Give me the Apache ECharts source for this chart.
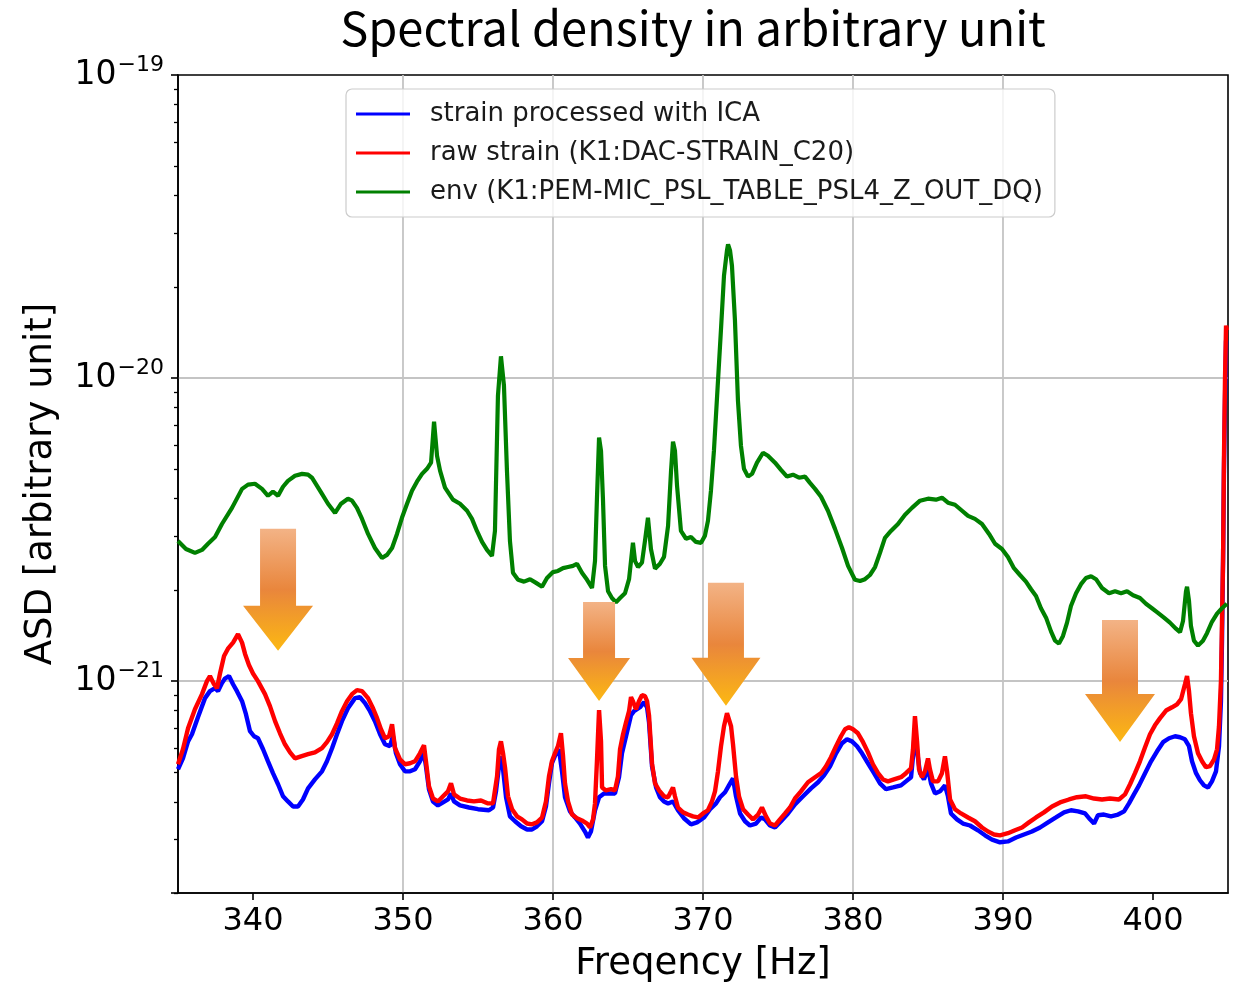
<!DOCTYPE html>
<html>
<head>
<meta charset="utf-8">
<script src="https://cdn.jsdelivr.net/npm/echarts@6/dist/echarts.min.js"></script>
<style>
html,body{margin:0;padding:0;background:#ffffff;}
#chart{width:1237px;height:983px;}
</style>
</head>
<body>
<div id="chart"></div>
<script>
// ---------------- DATA (frequency in Hz, ASD in units of 1e-21) ----------------
const titleText = 'Spectral density in arbitrary unit';
const xAxisName = 'Freqency [Hz]';
const yAxisName = 'ASD [arbitrary unit]';
const seriesNames = ['strain processed with ICA', 'raw strain (K1:DAC-STRAIN_C20)', 'env (K1:PEM-MIC_PSL_TABLE_PSL4_Z_OUT_DQ)'];
const xTickValues = [340, 350, 360, 370, 380, 390, 400];
const yDecadeValues = [1, 10, 100];            // 1e-21, 1e-20, 1e-19
const yMinorValues = [0.2,0.3,0.4,0.5,0.6,0.7,0.8,0.9,2,3,4,5,6,7,8,9,20,30,40,50,60,70,80,90];
const UNIT_EXP = -21;                           // values below are multiples of 1e-21

const icaStrain = [[335.00,0.512],[335.33,0.556],[335.67,0.633],[335.93,0.668],[336.33,0.760],[336.80,0.879],[337.13,0.927],[337.47,0.948],[337.67,0.927],[337.93,0.985],[338.13,1.02],[338.40,1.04],[338.67,0.977],[338.93,0.927],[339.27,0.859],[339.53,0.778],[339.80,0.684],[340.07,0.658],[340.33,0.648],[340.67,0.596],[341.00,0.544],[341.33,0.497],[341.67,0.457],[342.00,0.417],[342.33,0.401],[342.67,0.386],[343.00,0.386],[343.33,0.407],[343.67,0.443],[344.13,0.474],[344.60,0.504],[344.93,0.544],[345.27,0.601],[345.60,0.668],[345.93,0.738],[346.33,0.814],[346.80,0.879],[347.13,0.886],[347.47,0.846],[347.80,0.796],[348.13,0.738],[348.47,0.668],[348.80,0.619],[349.13,0.610],[349.33,0.658],[349.53,0.578],[349.80,0.532],[350.13,0.504],[350.47,0.504],[350.80,0.512],[351.13,0.544],[351.40,0.578],[351.53,0.524],[351.73,0.440],[352.00,0.401],[352.33,0.389],[352.67,0.398],[353.00,0.407],[353.20,0.426],[353.40,0.401],[353.80,0.389],[354.40,0.383],[355.00,0.378],[355.73,0.375],[356.00,0.383],[356.20,0.433],[356.40,0.524],[356.53,0.565],[356.67,0.512],[356.87,0.414],[357.13,0.358],[357.47,0.345],[357.87,0.332],[358.27,0.324],[358.60,0.324],[358.93,0.332],[359.27,0.345],[359.53,0.386],[359.73,0.460],[359.93,0.536],[360.20,0.578],[360.40,0.596],[360.60,0.504],[360.80,0.414],[361.13,0.372],[361.47,0.355],[361.80,0.339],[362.13,0.319],[362.33,0.305],[362.53,0.319],[362.80,0.375],[363.07,0.414],[363.40,0.426],[363.80,0.426],[364.13,0.426],[364.40,0.482],[364.60,0.578],[364.87,0.658],[365.20,0.772],[365.40,0.796],[365.53,0.784],[365.80,0.820],[366.07,0.852],[366.27,0.820],[366.40,0.732],[366.60,0.524],[366.87,0.446],[367.13,0.414],[367.40,0.401],[367.67,0.395],[368.00,0.401],[368.33,0.375],[368.73,0.353],[369.20,0.337],[369.60,0.342],[370.07,0.355],[370.47,0.378],[370.87,0.395],[371.13,0.414],[371.47,0.430],[371.73,0.453],[372.00,0.478],[372.20,0.417],[372.47,0.366],[372.80,0.345],[373.13,0.334],[373.53,0.339],[373.87,0.355],[374.13,0.350],[374.47,0.334],[374.80,0.329],[375.20,0.345],[375.67,0.366],[376.13,0.392],[376.67,0.417],[377.20,0.443],[377.67,0.464],[378.07,0.489],[378.47,0.524],[378.87,0.578],[379.27,0.624],[379.60,0.643],[379.93,0.633],[380.27,0.610],[380.60,0.578],[381.00,0.536],[381.40,0.497],[381.80,0.460],[382.20,0.440],[382.67,0.446],[383.20,0.453],[383.53,0.467],[383.87,0.482],[384.00,0.565],[384.13,0.699],[384.27,0.587],[384.47,0.497],[384.73,0.474],[385.00,0.516],[385.20,0.460],[385.47,0.426],[385.80,0.433],[386.13,0.453],[386.33,0.417],[386.53,0.366],[386.93,0.350],[387.33,0.339],[387.80,0.334],[388.33,0.322],[388.80,0.310],[389.27,0.300],[389.80,0.294],[390.33,0.296],[390.87,0.305],[391.40,0.312],[391.93,0.319],[392.47,0.329],[393.00,0.342],[393.53,0.355],[394.07,0.369],[394.53,0.375],[395.00,0.372],[395.47,0.366],[395.80,0.350],[396.07,0.339],[396.33,0.361],[396.73,0.363],[397.20,0.358],[397.67,0.363],[398.07,0.372],[398.40,0.395],[398.73,0.423],[399.07,0.453],[399.47,0.497],[399.87,0.544],[400.27,0.587],[400.67,0.629],[401.07,0.648],[401.47,0.658],[401.80,0.653],[402.13,0.643],[402.40,0.610],[402.60,0.544],[402.87,0.497],[403.13,0.471],[403.40,0.453],[403.67,0.446],[403.93,0.467],[404.20,0.504],[404.40,0.610],[404.53,0.859],[404.60,1.36],[404.67,2.49],[404.73,4.95],[404.80,8.43],[404.87,13.3],[404.93,13.3]];

const rawStrain = [[335.00,0.532],[335.33,0.596],[335.67,0.699],[336.13,0.808],[336.60,0.906],[336.93,1.00],[337.13,1.04],[337.40,0.977],[337.60,0.948],[337.80,1.06],[338.07,1.21],[338.33,1.28],[338.67,1.34],[339.00,1.43],[339.27,1.34],[339.47,1.23],[339.73,1.13],[340.00,1.06],[340.33,1.00],[340.80,0.906],[341.13,0.827],[341.47,0.738],[341.80,0.673],[342.13,0.619],[342.47,0.582],[342.80,0.556],[343.20,0.565],[343.67,0.574],[344.13,0.582],[344.60,0.601],[344.93,0.629],[345.27,0.668],[345.60,0.726],[345.93,0.796],[346.27,0.859],[346.60,0.906],[346.93,0.934],[347.27,0.927],[347.67,0.879],[348.00,0.814],[348.27,0.755],[348.53,0.694],[348.80,0.648],[349.07,0.658],[349.27,0.721],[349.47,0.601],[349.80,0.552],[350.13,0.532],[350.47,0.536],[350.80,0.544],[351.13,0.578],[351.40,0.615],[351.53,0.544],[351.73,0.450],[352.00,0.410],[352.33,0.401],[352.67,0.417],[353.00,0.433],[353.20,0.460],[353.40,0.423],[353.80,0.410],[354.27,0.404],[354.73,0.401],[355.20,0.404],[355.67,0.395],[356.00,0.395],[356.27,0.485],[356.40,0.596],[356.53,0.633],[356.67,0.578],[356.80,0.520],[357.00,0.417],[357.27,0.378],[357.60,0.358],[357.93,0.350],[358.27,0.339],[358.60,0.337],[358.93,0.342],[359.27,0.355],[359.53,0.401],[359.73,0.485],[359.93,0.544],[360.13,0.578],[360.33,0.610],[360.53,0.673],[360.67,0.565],[360.80,0.460],[361.00,0.401],[361.27,0.363],[361.60,0.353],[361.93,0.347],[362.27,0.339],[362.47,0.329],[362.67,0.350],[362.80,0.395],[362.93,0.544],[363.07,0.802],[363.20,0.633],[363.27,0.446],[363.53,0.436],[363.87,0.440],[364.13,0.436],[364.33,0.485],[364.47,0.596],[364.67,0.668],[364.87,0.732],[365.07,0.796],[365.20,0.886],[365.33,0.859],[365.53,0.808],[365.73,0.859],[365.93,0.899],[366.13,0.892],[366.27,0.859],[366.40,0.772],[366.60,0.536],[366.80,0.460],[367.07,0.436],[367.40,0.417],[367.67,0.414],[367.87,0.433],[368.00,0.446],[368.13,0.417],[368.33,0.383],[368.67,0.369],[369.00,0.363],[369.33,0.358],[369.67,0.355],[370.00,0.366],[370.33,0.375],[370.60,0.401],[370.80,0.433],[371.00,0.504],[371.20,0.610],[371.40,0.710],[371.60,0.784],[371.73,0.778],[371.87,0.710],[372.00,0.619],[372.20,0.485],[372.40,0.417],[372.67,0.378],[373.00,0.363],[373.33,0.350],[373.67,0.363],[373.93,0.383],[374.20,0.358],[374.47,0.339],[374.80,0.334],[375.13,0.350],[375.47,0.366],[375.80,0.383],[376.13,0.410],[376.53,0.433],[377.00,0.464],[377.47,0.482],[377.87,0.497],[378.20,0.524],[378.53,0.561],[378.87,0.610],[379.20,0.658],[379.47,0.694],[379.73,0.705],[380.00,0.694],[380.33,0.673],[380.67,0.629],[381.00,0.582],[381.33,0.532],[381.67,0.497],[382.00,0.474],[382.33,0.467],[382.73,0.474],[383.20,0.482],[383.53,0.497],[383.87,0.516],[384.00,0.596],[384.13,0.766],[384.27,0.633],[384.40,0.512],[384.60,0.482],[384.80,0.504],[385.00,0.556],[385.13,0.512],[385.33,0.467],[385.67,0.467],[385.93,0.497],[386.13,0.565],[386.27,0.504],[386.47,0.407],[386.80,0.378],[387.20,0.366],[387.67,0.355],[388.13,0.345],[388.60,0.329],[389.00,0.319],[389.40,0.312],[389.80,0.310],[390.33,0.315],[390.80,0.322],[391.27,0.329],[391.73,0.342],[392.20,0.355],[392.73,0.369],[393.27,0.386],[393.80,0.398],[394.40,0.407],[394.93,0.414],[395.53,0.417],[396.07,0.410],[396.60,0.407],[397.13,0.410],[397.73,0.407],[398.13,0.423],[398.47,0.457],[398.80,0.497],[399.13,0.544],[399.47,0.605],[399.80,0.668],[400.13,0.715],[400.47,0.755],[400.87,0.800],[401.27,0.820],[401.60,0.839],[401.87,0.872],[402.13,0.977],[402.27,1.04],[402.40,0.927],[402.53,0.784],[402.73,0.658],[403.00,0.578],[403.27,0.544],[403.53,0.520],[403.80,0.524],[404.07,0.552],[404.27,0.596],[404.40,0.710],[404.53,1.00],[404.60,1.58],[404.67,2.49],[404.73,5.34],[404.80,9.81],[404.87,14.9],[404.93,14.4]];

const envMic = [[335.00,2.90],[335.53,2.73],[336.13,2.65],[336.60,2.71],[337.00,2.84],[337.47,2.99],[337.93,3.30],[338.60,3.73],[339.27,4.31],[339.67,4.45],[340.13,4.48],[340.60,4.31],[341.00,4.09],[341.33,4.22],[341.67,4.09],[342.00,4.38],[342.33,4.58],[342.80,4.76],[343.27,4.83],[343.67,4.80],[343.93,4.69],[344.27,4.41],[344.60,4.15],[345.00,3.85],[345.47,3.59],[345.87,3.85],[346.33,4.00],[346.60,3.94],[346.93,3.73],[347.27,3.43],[347.67,3.06],[348.13,2.75],[348.60,2.55],[348.93,2.61],[349.27,2.75],[349.60,3.06],[349.93,3.46],[350.27,3.85],[350.60,4.25],[350.93,4.55],[351.27,4.83],[351.60,5.02],[351.87,5.26],[352.07,7.18],[352.27,5.54],[352.47,4.95],[352.80,4.35],[353.33,3.97],[353.80,3.85],[354.27,3.65],[354.60,3.43],[354.93,3.13],[355.27,2.88],[355.60,2.71],[355.93,2.59],[356.13,3.13],[356.33,8.75],[356.53,11.8],[356.73,9.45],[356.93,4.95],[357.13,2.90],[357.33,2.28],[357.67,2.16],[358.07,2.13],[358.47,2.17],[358.87,2.11],[359.27,2.05],[359.60,2.19],[360.00,2.29],[360.33,2.31],[360.67,2.36],[361.00,2.38],[361.33,2.40],[361.60,2.44],[361.93,2.28],[362.27,2.16],[362.60,2.03],[362.80,2.49],[362.93,4.00],[363.07,6.36],[363.20,5.76],[363.33,4.00],[363.47,2.40],[363.67,1.98],[363.93,1.88],[364.20,1.82],[364.47,1.88],[364.80,1.95],[365.07,2.17],[365.20,2.49],[365.33,2.86],[365.47,2.49],[365.67,2.38],[365.93,2.46],[366.13,2.90],[366.33,3.46],[366.53,2.73],[366.80,2.35],[367.13,2.44],[367.40,2.57],[367.67,3.25],[367.87,4.95],[368.00,6.17],[368.13,5.76],[368.27,4.41],[368.53,3.13],[368.87,2.95],[369.20,2.99],[369.53,2.88],[369.87,2.86],[370.13,3.02],[370.33,3.38],[370.53,4.25],[370.73,5.76],[371.00,9.81],[371.20,14.5],[371.40,21.8],[371.60,26.4],[371.67,27.6],[371.80,26.4],[371.93,23.5],[372.13,15.5],[372.33,8.43],[372.53,5.98],[372.73,5.02],[373.00,4.73],[373.27,4.83],[373.60,5.26],[374.00,5.67],[374.33,5.54],[374.80,5.26],[375.20,4.98],[375.60,4.73],[376.00,4.80],[376.40,4.69],[376.80,4.73],[377.13,4.51],[377.47,4.31],[377.87,4.06],[378.33,3.65],[378.80,3.18],[379.27,2.75],[379.67,2.40],[380.13,2.16],[380.47,2.14],[380.80,2.17],[381.13,2.24],[381.47,2.38],[381.80,2.65],[382.13,2.97],[382.53,3.13],[383.00,3.30],[383.47,3.54],[383.93,3.73],[384.47,3.94],[385.00,4.00],[385.53,3.97],[385.93,4.03],[386.33,3.88],[386.80,3.82],[387.27,3.65],[387.67,3.51],[388.13,3.43],[388.60,3.30],[389.07,3.06],[389.47,2.84],[389.93,2.73],[390.33,2.57],[390.73,2.36],[391.13,2.24],[391.53,2.13],[391.87,2.01],[392.20,1.91],[392.53,1.74],[392.87,1.62],[393.20,1.46],[393.47,1.36],[393.73,1.33],[394.00,1.41],[394.27,1.56],[394.53,1.77],[394.87,1.95],[395.20,2.09],[395.53,2.19],[395.87,2.22],[396.20,2.17],[396.60,2.03],[397.07,1.95],[397.47,1.98],[397.87,1.95],[398.27,1.98],[398.67,1.92],[399.13,1.88],[399.53,1.80],[399.93,1.74],[400.33,1.68],[400.73,1.62],[401.13,1.56],[401.53,1.49],[401.80,1.45],[402.00,1.58],[402.20,1.98],[402.27,2.05],[402.40,1.84],[402.53,1.52],[402.73,1.36],[403.00,1.31],[403.33,1.36],[403.60,1.44],[403.93,1.57],[404.27,1.67],[404.60,1.74],[404.93,1.80]];

// annotation arrows: tip position [frequency, ASD (1e-21)]
const arrowTips = [[341.67,1.26],[363.07,0.86],[371.53,0.83],[397.80,0.63]];

// ---------------- STYLE ----------------
const FONT = 'DejaVu Sans';
const arrowShapes = [
  {len:122, shaftW:36, headW:70, headH:45},
  {len:99,  shaftW:32, headW:62, headH:43},
  {len:123, shaftW:36, headW:69, headH:48},
  {len:122, shaftW:36, headW:70, headH:48}
];
const seriesColors = ['#0000ff', '#ff0000', '#008000'];

const toSup = (n) => String(n).replace('-', '\u2212');
function yLabel(v) {
  const l = Math.log10(v);
  const r = Math.round(l);
  if (Math.abs(l - r) > 1e-6) return '';
  return '{b|10}{s|' + toSup(r + UNIT_EXP) + '}';
}

const chart = echarts.init(document.getElementById('chart'), null, {renderer: 'canvas'});

const option = {
  animation: false,
  backgroundColor: '#ffffff',
  title: {
    text: titleText,
    left: 688, top: 0, textAlign: 'center',
    textStyle: {fontFamily: 'Noto Sans CJK JP', fontSize: 47, fontWeight: 'normal', color: '#000'}
  },
  grid: {left: 178, right: 9, top: 75, bottom: 90, outerBoundsMode: 'none', containLabel: false, show: true, borderColor: '#000', borderWidth: 1.6, backgroundColor: 'transparent'},
  legend: {
    data: seriesNames,
    orient: 'vertical', left: 346, top: 89,
    backgroundColor: 'rgba(255,255,255,0.8)', borderColor: '#cccccc', borderWidth: 1.2, borderRadius: 6,
    padding: [11, 12, 11, 10],
    itemWidth: 54, itemHeight: 3, itemGap: 11,
    icon: 'rect',
    textStyle: {fontFamily: FONT, fontSize: 26, color: '#1a1a1a', lineHeight: 28, padding: [0, 0, 0, 15]}
  },
  xAxis: {
    type: 'value', min: 335, max: 405, splitNumber: 7,
    name: xAxisName, nameLocation: 'middle', nameGap: 53,
    nameTextStyle: {fontFamily: FONT, fontSize: 37, color: '#000'},
    axisLine: {show: true, onZero: false, lineStyle: {color: '#000', width: 1.6}},
    axisTick: {show: true, inside: false, length: 7, lineStyle: {color: '#000', width: 1.6}, customValues: xTickValues},
    axisLabel: {show: true, margin: 13, fontFamily: FONT, fontSize: 32, color: '#000', customValues: xTickValues},
    splitLine: {show: true, showMinLine: false, showMaxLine: false, lineStyle: {color: '#c4c4c4', width: 1.8}}
  },
  yAxis: [
    {
      type: 'log', logBase: 10, min: 0.2, max: 100,
      name: yAxisName, nameLocation: 'middle', nameGap: 118,
      nameTextStyle: {fontFamily: FONT, fontSize: 37, color: '#000'},
      axisLine: {show: true, onZero: false, lineStyle: {color: '#000', width: 1.6}},
      axisTick: {show: true, inside: false, length: 7, lineStyle: {color: '#000', width: 1.6}},
      axisLabel: {
        show: true, margin: 14, formatter: yLabel, showMinLabel: true,
        rich: {
          b: {fontFamily: FONT, fontSize: 33, color: '#000', verticalAlign: 'bottom', lineHeight: 34},
          s: {fontFamily: FONT, fontSize: 22, color: '#000', verticalAlign: 'bottom', lineHeight: 24, padding: [0, 0, 16, 1]}
        }
      },
      splitLine: {show: true, showMinLine: false, showMaxLine: false, lineStyle: {color: '#c4c4c4', width: 1.8}}
    },
    {
      type: 'value', min: Math.log10(0.2), max: 2, position: 'left',
      axisLine: {show: false, onZero: false},
      axisTick: {show: true, inside: false, length: 4, lineStyle: {color: '#000', width: 1.3}, customValues: yMinorValues.map(v => Math.log10(v))},
      axisLabel: {show: false},
      splitLine: {show: false}
    }
  ],
  series: [
    {name: seriesNames[0], type: 'line', data: icaStrain, color: seriesColors[0], showSymbol: false, symbol: 'none', lineStyle: {width: 4.4, color: seriesColors[0]}, z: 2, silent: true},
    {name: seriesNames[1], type: 'line', data: rawStrain, color: seriesColors[1], showSymbol: false, symbol: 'none', lineStyle: {width: 4.4, color: seriesColors[1]}, z: 3, silent: true},
    {name: seriesNames[2], type: 'line', data: envMic, color: seriesColors[2], showSymbol: false, symbol: 'none', lineStyle: {width: 4.2, color: seriesColors[2]}, z: 4, silent: true},
    {
      name: 'arrows', type: 'custom', data: arrowTips, encode: {x: 0, y: 1}, clip: false, z: 10, silent: true,
      renderItem: function (params, api) {
        const tip = api.coord([api.value(0), api.value(1)]);
        const s = arrowShapes[params.dataIndex];
        const x = tip[0], y = tip[1];
        const top = y - s.len, hb = y - s.headH;
        return {
          type: 'polygon',
          shape: {points: [[x - s.shaftW / 2, top], [x + s.shaftW / 2, top], [x + s.shaftW / 2, hb], [x + s.headW / 2, hb], [x, y], [x - s.headW / 2, hb], [x - s.shaftW / 2, hb]]},
          style: {
            fill: new echarts.graphic.LinearGradient(0, 0, 0, 1, [
              {offset: 0, color: '#f3b386'},
              {offset: 0.5, color: '#e9863c'},
              {offset: 1, color: '#fcb812'}
            ])
          }
        };
      }
    }
  ]
};
chart.setOption(option);
</script>
</body>
</html>
